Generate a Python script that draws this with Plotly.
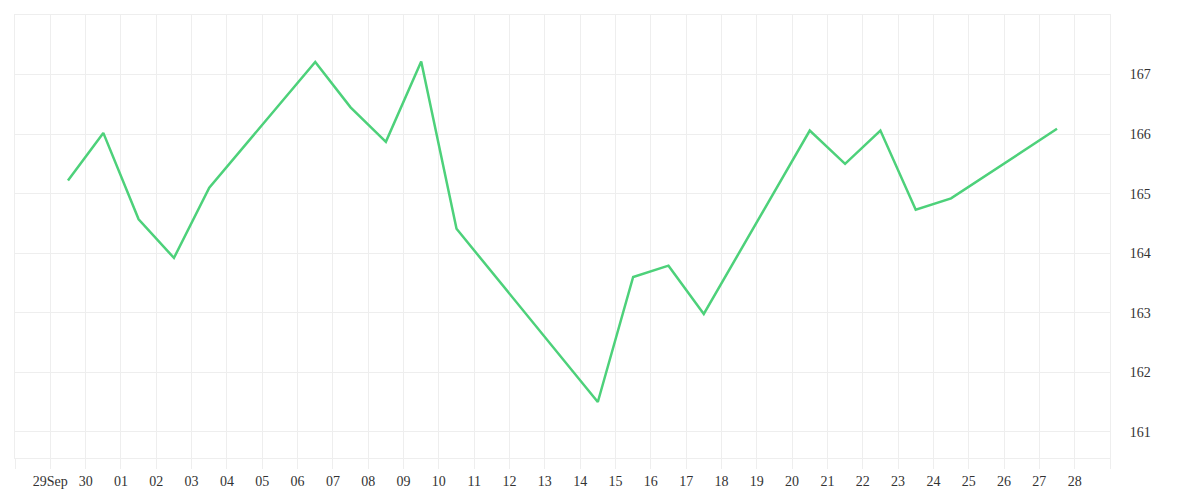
import pandas as pd
import plotly.graph_objects as go

# points are stamped at midday of each date
dates = ["2023-09-29", "2023-09-30", "2023-10-01", "2023-10-02", "2023-10-03",
         "2023-10-06", "2023-10-07", "2023-10-08", "2023-10-09", "2023-10-10",
         "2023-10-14", "2023-10-15", "2023-10-16", "2023-10-17",
         "2023-10-20", "2023-10-21", "2023-10-22", "2023-10-23", "2023-10-24",
         "2023-10-27"]
values = [165.22, 166.02, 164.57, 163.92, 165.10,
          167.21, 166.45, 165.87, 167.22, 164.41,
          161.50, 163.60, 163.79, 162.98,
          166.06, 165.50, 166.06, 164.73, 164.92,
          166.09]

tick_days = pd.date_range("2023-09-28", "2023-10-29", freq="D")
tick_text = ["", "29Sep"] + [d.strftime("%d") for d in tick_days[2:-1]] + [""]
y_ticks = [161, 162, 163, 164, 165, 166, 167]

grid = "#eeeeee"
x = pd.to_datetime(dates) + pd.Timedelta(hours=12)

fig = go.Figure(go.Scatter(x=x, y=values, mode="lines",
                           line=dict(color="#4dd17a", width=2.5)))

# page body adds 8px around the figure
fig.update_layout(
    width=1184, height=484,
    margin=dict(l=7, r=82, t=7, b=34),
    plot_bgcolor="white", paper_bgcolor="white",
    showlegend=False,
    font=dict(family="Liberation Serif", size=14, color="#333333"),
)
fig.update_xaxes(
    range=[tick_days[0], tick_days[-1]],
    tickvals=tick_days, ticktext=tick_text,
    showgrid=True, gridcolor=grid, gridwidth=1,
    ticks="outside", ticklen=10, tickcolor=grid, tickwidth=1,
    showline=True, linecolor=grid, linewidth=1, mirror=True,
    zeroline=False, automargin=False,
)
fig.update_yaxes(
    side="right", range=[160.56, 168.0],
    tickvals=y_ticks,
    showgrid=True, gridcolor=grid, gridwidth=1,
    ticks="", ticklabelstandoff=16,
    showline=True, linecolor=grid, linewidth=1, mirror=True,
    zeroline=False, automargin=False,
)

fig.write_html("out.html")
